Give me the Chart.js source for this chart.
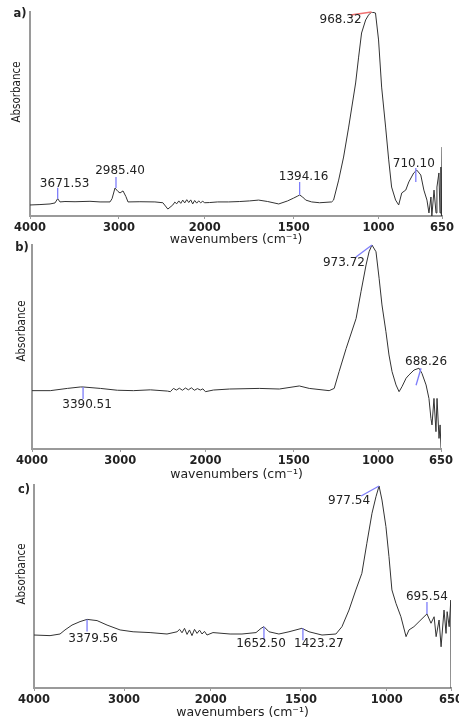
<!DOCTYPE html>
<html><head><meta charset="utf-8">
<script src="https://cdn.jsdelivr.net/npm/chart.js@4/dist/chart.umd.min.js"></script>
<style>
html,body{margin:0;padding:0;background:#fff;}
body{width:459px;height:724px;position:relative;overflow:hidden;}
canvas{position:absolute;left:0;}
</style></head>
<body>
<canvas id="ca" width="459" height="248" style="top:0px"></canvas>
<canvas id="cb" width="459" height="250" style="top:232px"></canvas>
<canvas id="cc" width="459" height="252" style="top:472px"></canvas>
<script>
// ---- axis (split wavenumber axis, 4000-2000 compressed) ----
const tickLabels = ['4000','3000','2000','1500','1000','650'];
const tickWavenumbers = [4000,3000,2000,1500,1000,650];
const axisKnots = [0, 0.216, 0.424, 0.64, 0.846, 1];

// ---- panel a ----
const waveA = [4000,3888,3775,3719,3689,3663,3607,3494,3326,3213,3101,3078,3045,3011,2988,2953,2919,2895,2756,2581,2488,2430,2372,2349,2326,2302,2279,2256,2233,2209,2186,2163,2140,2117,2093,2070,2047,2023,2000,1972,1927,1865,1803,1747,1697,1646,1584,1534,1500,1476,1465,1447,1429,1394,1347,1276,1265,1235,1206,1176,1135,1118,1100,1076,1059,1041,1018,1000,983,961,944,928,906,889,872,850,833,806,789,767,750,733,722,711,706,694,683,678,667,661,656,653,650];
const absA = [5.4,5.6,5.9,6.4,8.5,6.9,7.1,7.0,7.2,6.9,6.9,8.5,13.7,12.0,11.3,12.3,9.5,6.9,7.0,6.9,6.5,3.4,5.4,6.8,6.0,7.4,6.2,7.8,6.4,8.0,6.6,7.9,5.9,7.6,6.3,7.4,6.5,7.2,6.5,6.6,6.9,6.9,7.1,7.4,7.8,7.1,5.9,7.4,8.8,9.8,10.3,9.3,7.8,6.9,6.5,6.9,7.8,17.6,28.9,43.6,65.2,77.5,89.7,96.1,98.5,100,99.5,86.3,63.2,43.6,27.5,14.2,7.8,5.4,11.3,12.7,16.7,21.1,22.5,20.1,12.7,7.8,1.5,9.3,0,12.7,1.5,14.2,21.1,1.5,24,0,33.8];
const peakTextA = ['3671.53','2985.40','1394.16','968.32','710.10'];
const peakAtA = [3689,3045,1465,1041,789];

// ---- panel b ----
const waveB = [4000,3793,3600,3453,3422,3226,3034,2847,2647,2447,2412,2376,2341,2306,2270,2235,2200,2165,2129,2094,2059,2030,2000,1955,1864,1695,1582,1467,1408,1290,1260,1231,1189,1130,1101,1071,1053,1036,1012,994,978,956,939,922,900,883,867,844,828,800,772,756,733,717,706,700,689,678,672,661,655,650];
const absB = [28.6,28.6,29.7,30.4,30.4,29.7,28.8,28.6,29.0,28.4,28.1,29.7,28.9,29.8,28.8,29.9,29.0,30.0,28.8,29.6,28.9,29.5,28.1,28.9,29.4,29.7,29.4,30.9,29.7,28.6,29.7,37.9,49.3,64,77.1,90.2,96.7,100,96.7,83.7,70.6,57.5,46.1,37.9,31.4,28.1,30.5,34.7,36.3,38.7,39.6,37.1,31.4,24.8,15,11.8,24.8,8.5,24.8,5.2,11.8,0.5];
const peakTextB = ['3390.51','973.72','688.26'];
const peakAtB = [3422,1036,772];

// ---- panel c ----
const waveC = [4000,3822,3711,3656,3578,3489,3411,3300,3189,3044,2896,2700,2505,2389,2360,2332,2303,2274,2246,2217,2188,2159,2130,2101,2073,2044,1988,1893,1827,1749,1721,1705,1677,1622,1566,1494,1453,1377,1296,1261,1220,1180,1145,1116,1086,1063,1045,1028,1005,988,972,950,923,895,879,852,824,797,781,759,742,731,715,704,688,677,671,660,651,650];
const absC = [26.1,25.8,26.6,28.6,31,32.7,33.8,33.2,31,28.6,27.7,27.3,26.6,27.7,28.9,27.2,29.4,26.4,28.6,25.8,28.9,26.9,28.5,26.6,27.9,26.1,27.3,26.6,26.6,27.3,29.4,30.2,27.7,26.6,27.7,29.4,27.7,26.1,26.6,30.2,38.4,48.3,56.5,71.3,86.1,94.2,99.5,92.6,79.5,64.7,48.3,41.7,35.1,25.3,28.6,30.2,32.7,35.1,36.5,31.9,35.1,25.3,33.5,20.3,38.4,26.9,37.6,30.2,43.3,0];
const peakTextC = ['3379.56','1652.50','1423.27','977.54','695.54'];
const peakAtC = [3411,1705,1494,1045,781];

function toAxis(w){
  for (let i=0;i<tickWavenumbers.length-1;i++){
    const a=tickWavenumbers[i], b=tickWavenumbers[i+1];
    if (w<=a && w>=b) return axisKnots[i] + (a-w)/(a-b)*(axisKnots[i+1]-axisKnots[i]);
  }
  return w>tickWavenumbers[0]?0:1;
}

const BLUE='#7d7dfa', RED='#f07070';

const decor = {
  id:'decor',
  afterDatasetsDraw(chart, args, opts){
    const {ctx, chartArea:ca} = chart;
    ctx.save();
    ctx.fillStyle='#222'; ctx.textAlign='center'; ctx.textBaseline='middle';
    ctx.font='bold 11.5px "DejaVu Sans"';
    ctx.fillText(opts.letter, ca.left+opts.letterDx, ca.top+opts.letterDy);
    ctx.save();
    ctx.translate(ca.left+opts.absDx, ca.top+opts.absDy);
    ctx.rotate(-Math.PI/2);
    ctx.font='11.5px "Liberation Sans Narrow", "DejaVu Sans Condensed", sans-serif';
    ctx.fillText('Absorbance',0,0);
    ctx.restore();
    const meta = chart.getDatasetMeta(0);
    const data = chart.data.datasets[0].data;
    ctx.font='12px "DejaVu Sans"';
    opts.texts.forEach((t,k)=>{
      const u = toAxis(opts.at[k]);
      let bi=0, bd=Infinity;
      data.forEach((d,i)=>{const dd=Math.abs(d.x-u); if(dd<bd){bd=dd;bi=i;}});
      const px=meta.data[bi].x, py=meta.data[bi].y;
      const s=opts.style[k];
      ctx.strokeStyle=s.c||BLUE; ctx.lineWidth=1.3;
      ctx.beginPath();
      ctx.moveTo(px+s.m[0], py+s.m[1]);
      ctx.lineTo(px+s.m[2], py+s.m[3]);
      ctx.stroke();
      ctx.fillStyle='#222';
      ctx.fillText(t, px+s.l[0], py+s.l[1]);
    });
    ctx.restore();
  }
};

function buildChart(id, wave, abs, texts, at, L, style){
  const pts = wave.map((w,i)=>({x: toAxis(w), y: abs[i]}));
  return new Chart(document.getElementById(id), {
    type:'line',
    data:{datasets:[{data:pts, borderColor:'#333', borderWidth:1, pointRadius:0, tension:0, fill:false}]},
    options:{
      responsive:false, animation:false, devicePixelRatio:1,
      layout:{padding:{top:L.top, right:L.right, left:0, bottom:0}},
      plugins:{legend:{display:false}, tooltip:{enabled:false},
        decor:{letter:L.letter, letterDx:L.letterDx, letterDy:L.letterDy, absDx:L.absDx, absDy:L.absDy, texts:texts, at:at, style:style}},
      scales:{
        x:{type:'linear', min:0, max:1,
          afterBuildTicks: ax => { ax.ticks = axisKnots.map(v=>({value:v})); },
          afterFit: ax => { ax.height = L.xh; ax.paddingLeft=0; ax.paddingRight=0; },
          ticks:{autoSkip:false, maxRotation:0, padding:L.tp, color:'#222',
            font:{family:'DejaVu Sans', size:11.5, weight:'bold'},
            callback:(v,i)=>tickLabels[i]},
          grid:{display:true, drawOnChartArea:false, drawTicks:true, tickLength:3, color:'#9a9a9a'},
          border:{display:true, color:'#9a9a9a', width:2},
          title:{display:true, text:'wavenumbers (cm⁻¹)', color:'#222',
            font:{family:'DejaVu Sans', size:12.5}, padding:{top:0, bottom:L.tb}}
        },
        y:{type:'linear', min:0, max:100,
          afterFit: ax => { ax.width = L.left; ax.paddingTop=0; ax.paddingBottom=0; },
          ticks:{display:false}, grid:{display:false},
          border:{display:true, color:'#9a9a9a', width:2}}
      }
    },
    plugins:[decor]
  });
}

buildChart('ca', waveA, absA, peakTextA, peakAtA,
  {top:12, right:17, left:30, xh:32, tp:2, tb:0.5, letter:'a)', letterDx:-10, letterDy:2, absDx:-13, absDy:80},
  [{m:[0,0,0,-11], l:[7,-15]},
   {m:[1,0,1,-11], l:[5,-17]},
   {m:[0,0,0,-13], l:[4,-18]},
   {m:[0,0,-21,3], l:[-31,8], c:RED},
   {m:[-1,-2,-1,12], l:[-3,-6]}]);

buildChart('cb', waveB, absB, peakTextB, peakAtB,
  {top:13, right:18, left:32, xh:33, tp:2, tb:0, letter:'b)', letterDx:-10, letterDy:3, absDx:-10, absDy:86},
  [{m:[0,0,0,12], l:[4,18]},
   {m:[0,0,-16,12], l:[-28,18]},
   {m:[2,0,-3,17], l:[7,-6]}]);

buildChart('cc', waveC, absC, peakTextC, peakAtC,
  {top:13, right:8, left:34, xh:36, tp:2, tb:3.5, letter:'c)', letterDx:-10, letterDy:5, absDx:-12, absDy:89},
  [{m:[0,0,0,12], l:[6,19]},
   {m:[0,0,0,13], l:[-3,17]},
   {m:[1,0,1,12], l:[17,16]},
   {m:[0,0,-18,10], l:[-30,15]},
   {m:[0,0,0,-12], l:[0,-17]}]);
</script>
</body></html>
